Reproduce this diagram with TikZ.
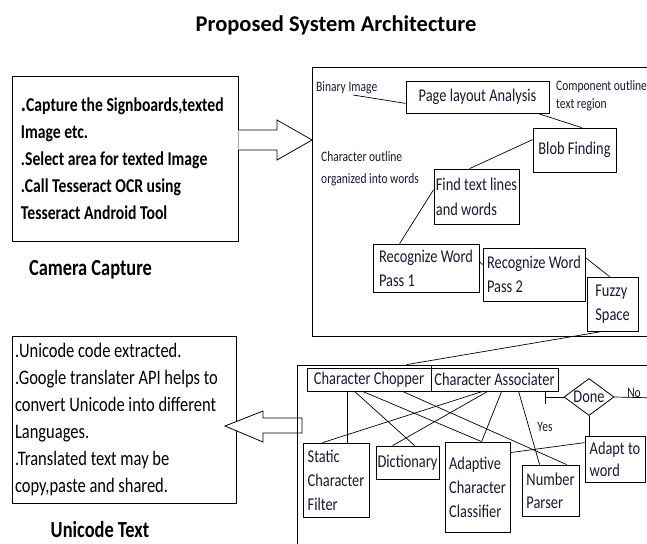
\documentclass[tikz,border=0pt]{standalone}
\usepackage{fontspec}
\setmainfont{Carlito}[FakeStretch=0.8]
\newfontfamily\titlefont{Carlito}
\usetikzlibrary{calc,shapes.geometric,arrows.meta}
\definecolor{ink}{RGB}{25,25,55}
\begin{document}
\begin{tikzpicture}[x=1pt,y=1pt,
  box/.style={draw, line width=0.8pt, inner sep=0pt, align=left, text=ink,
    font=\fontsize{18}{24}\selectfont},
  smalltxt/.style={inner sep=0pt, align=left, text=ink, font=\fontsize{14.4}{18}\selectfont},
  conn/.style={line width=0.7pt},
  frameline/.style={line width=1pt},
  hollow/.style={draw, line width=0.8pt, fill=white},
  caption/.style={inner sep=0pt, font=\bfseries\fontsize{23}{26}\selectfont}
]
\fill[white] (0,0) rectangle (647,-543);
\useasboundingbox (0,0) rectangle (647,-543);

% title
\node[inner sep=0pt, font=\titlefont\bfseries\fontsize{22.5}{26}\selectfont] (title) at (336,-25) {Proposed System Architecture};

% left boxes
\node[draw, line width=0.9pt, minimum width=226pt, minimum height=165pt, text width=218pt,
  inner xsep=4pt, inner ysep=0pt, align=flush left, font=\bfseries\fontsize{19.6}{27}\selectfont]
  (cam) at (125,-158.5)
  {\hspace*{5pt}{\fontsize{24}{27}\selectfont.}Capture the Signboards,texted\\
   \hspace*{5pt}Image etc.\\
   \hspace*{5pt}.Select area for texted Image\\
   \hspace*{5pt}.Call Tesseract OCR using\\
   \hspace*{5pt}Tesseract Android Tool};
\node[caption] (camcap) at (90.5,-270) {Camera Capture};

\node[draw, line width=0.9pt, minimum width=224pt, minimum height=167pt, text width=218pt,
  inner xsep=3pt, inner ysep=0pt, align=flush left, font=\fontsize{20.6}{27}\selectfont]
  (uni) at (124,-419.5)
  {.Unicode code extracted.\\
   .Google translater API helps to\\
   convert Unicode into different\\
   Languages.\\
   .Translated text may be\\
   copy,paste and shared.};
\node[caption] (unicap) at (100,-530) {Unicode Text};

% hollow arrows
\draw[hollow] (cam.east |- 0,-130) -- (277,-130) -- (277,-120) -- (312,-140)
  -- (277,-160) -- (277,-150) -- (cam.east |- 0,-150);
\draw[hollow] (302,-418) -- (263,-418) -- (263,-411) -- (225,-426) -- (263,-442)
  -- (263,-433) -- (302,-433) -- cycle;

% upper frame
\draw[frameline] (660,-67) -- (312,-67) -- (312,-336) -- (660,-336);

\node[smalltxt, anchor=west] (bin) at (316,-88) {Binary Image};
\node[box, minimum width=143pt, minimum height=32pt] (pla) at (477.5,-97) {Page layout Analysis};
\node[smalltxt, anchor=west] (comp) at (556,-96) {Component outline\\text region};
\node[box, minimum width=83pt, minimum height=44pt] (blob) at (574.5,-150) {Blob Finding};
\node[smalltxt, anchor=west, font=\fontsize{14.4}{22}\selectfont] (cout) at (321,-169) {Character outline\\organized into words};
\node[box, minimum width=85pt, minimum height=55pt, font=\fontsize{18}{25}\selectfont] (find) at (476.5,-196.5) {Find text lines\\and words};
\node[box, minimum width=106pt, minimum height=48pt] (rw1) at (426,-268) {Recognize Word\\Pass 1};
\node[box, minimum width=102pt, minimum height=53pt] (rw2) at (534,-274.5) {Recognize Word\\Pass 2};
\node[box, minimum width=51pt, minimum height=54pt] (fuzzy) at (612.5,-304) {Fuzzy\\Space};

\coordinate (binend) at (353,-95);
\draw[conn] (binend) -- ($(pla.south west)+(0,10)$);
\draw[conn] ($(pla.south west)+(132,0)$) -- ($(blob.north west)+(49,0)$);
\draw[conn] ($(blob.north west)+(0,-12)$) -- ($(find.north west)+(36,0)$);
\draw[conn] ($(find.north west)+(0,-21)$) -- ($(rw1.north west)+(27,0)$);
\draw[conn] ($(rw1.north east)+(0,-18)$) -- ($(rw2.north west)+(0,-17)$);
\draw[conn] ($(rw2.north east)+(0,-10)$) -- ($(fuzzy.north west)+(23,0)$);

% lower frame
\draw[frameline] (660,-365) -- (297,-365) -- (297,-560);

\node[box, minimum width=124pt, minimum height=23pt] (chop) at (369,-379.5) {Character Chopper};
\node[box, minimum width=127pt, minimum height=23pt] (assoc) at (494.5,-379.5) {Character Associater};
\draw[conn] (chop.north east) -- ++(0,3);
\coordinate (chtop) at ($(chop.north west)+(100,3)$);
\draw[conn] ($(fuzzy.south west)+(16,0)$) -- (chtop);

\node[draw, diamond, line width=0.8pt, aspect=1.35, inner sep=0pt, minimum width=50pt,
  minimum height=37pt, text=ink, font=\fontsize{18}{20}\selectfont] (done) at (589,-397) {Done};
\node[box, minimum width=60pt, minimum height=46pt, font=\fontsize{18}{22}\selectfont] (adapt) at (615,-459) {Adapt to\\word};
\node[box, minimum width=66pt, minimum height=74pt] (stat) at (336,-480) {Static\\Character\\Filter};
\node[box, minimum width=63pt, minimum height=33pt] (dict) at (407.5,-462.5) {Dictionary};
\node[box, minimum width=65pt, minimum height=90pt] (adapc) at (477.5,-487) {Adaptive\\Character\\Classifier};
\node[box, minimum width=57pt, minimum height=51pt, font=\fontsize{18}{23}\selectfont] (num) at (550.5,-490.5) {Number\\Parser};

\draw[conn] ($(chop.south west)+(41,0)$) -- ($(stat.north west)+(45,0)$);
\draw[conn] ($(chop.south west)+(48,0)$) -- ($(dict.north west)+(39,0)$);
\draw[conn] ($(chop.south west)+(56,0)$) -- ($(adapc.north west)+(37,0)$);
\draw[conn] ($(chop.south west)+(96,0)$) -- ($(num.north west)+(45,0)$);
\draw[conn] ($(assoc.south west)+(52,0)$) -- ($(stat.north west)+(20,0)$);
\draw[conn] ($(assoc.south west)+(57,0)$) -- ($(dict.north west)+(17,0)$);
\draw[conn] ($(assoc.south west)+(71,0)$) -- ($(adapc.north west)+(37,0)$);
\draw[conn] ($(assoc.south west)+(88,0)$) -- ($(num.north west)+(18,0)$);

\coordinate (barend) at (545,-397);
\draw[conn, -{Bar[width=13pt, line width=0.7pt]}] (done.west) -- (barend);
\coordinate (noend) at (660,-398);
\draw[conn] (done.east) -- (noend);
\node[smalltxt] (no) at (634,-393) {No};
\draw[conn] (done.south) -- (done.south |- adapt.north);
\draw[conn] ($(adapt.north west)+(0,-7)$) -- ($(adapc.north east)+(0,-11)$);
\node[smalltxt] (yes) at (545,-427) {Yes};

\end{tikzpicture}
\end{document}
